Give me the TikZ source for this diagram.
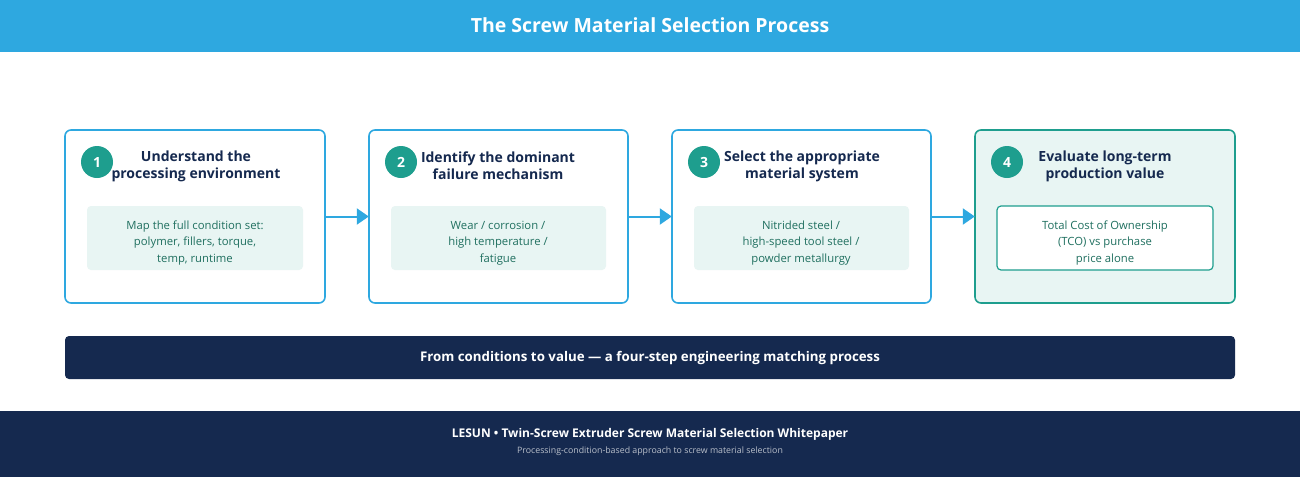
\documentclass[tikz,border=0pt]{standalone}
\usepackage{fontspec}
\setmainfont{Open Sans}
\usetikzlibrary{arrows.meta}
\definecolor{hdr}{HTML}{2EA8E0}
\definecolor{navy}{HTML}{15294F}
\definecolor{teal}{HTML}{1E9E8E}
\definecolor{pale}{HTML}{E8F5F3}
\definecolor{tealtxt}{HTML}{1F6F5F}
\begin{document}
\begin{tikzpicture}[x=1pt,y=-1pt,
  card/.style={draw=hdr,line width=1.6pt,rounded corners=6pt,fill=white},
  inner/.style={fill=pale,rounded corners=4pt},
  num/.style={circle,fill=teal,minimum size=32pt,inner sep=0pt,text=white,font=\bfseries\fontsize{14}{16}\selectfont},
  ttl/.style={text=navy,font=\bfseries\fontsize{14}{17}\selectfont,align=center},
  body/.style={text=tealtxt,font=\fontsize{11.3}{16.5}\selectfont,align=center},
  arr/.style={draw=hdr,line width=2pt,-{Triangle[length=12pt,width=16pt]}}]
\useasboundingbox (0,0) rectangle (1300,477);
\fill[hdr] (0,0) rectangle (1300,52);
\node[text=white,font=\bfseries\fontsize{19.5}{22}\selectfont] (title) at (650,25) {The Screw Material Selection Process};
% cards
\draw[card] (65,130) rectangle (325,303);
\node (c1) at (195,216.5) [minimum width=260pt,minimum height=173pt] {};
\draw[card] (369,130) rectangle (628,303);
\node (c2) at (498.5,216.5) [minimum width=259pt,minimum height=173pt] {};
\draw[card] (672,130) rectangle (931,303);
\node (c3) at (801.5,216.5) [minimum width=259pt,minimum height=173pt] {};
\draw[card,draw=teal,fill=pale] (975,130) rectangle (1235,303);
\node (c4) at (1105,216.5) [minimum width=260pt,minimum height=173pt] {};
% inner boxes
\fill[inner] (87,206) rectangle (303,270);
\fill[inner] (391,206) rectangle (606,270);
\fill[inner] (694,206) rectangle (909,270);
\draw[inner,fill=white,draw=teal,line width=1.2pt] (997,206) rectangle (1213,270);
% numbers
\node[num] (n1) at (97,162) {1};
\node[num] (n2) at (401,162) {2};
\node[num] (n3) at (704,162) {3};
\node[num] (n4) at (1007,162) {4};
% titles
\node[ttl] (t1) at (196,166) {Understand the\\processing environment};
\node[ttl] (t2) at (498,166) {Identify the dominant\\failure mechanism};
\node[ttl] (t3) at (802,166) {Select the appropriate\\material system};
\node[ttl] (t4) at (1105,166) {Evaluate long-term\\production value};
% bodies
\node[body] (b1) at (195,243) {Map the full condition set:\\polymer, fillers, torque,\\temp, runtime};
\node[body] (b2) at (498,243) {Wear / corrosion /\\high temperature /\\fatigue};
\node[body] (b3) at (801,243) {Nitrided steel /\\high-speed tool steel /\\powder metallurgy};
\node[body] (b4) at (1105,243) {Total Cost of Ownership\\(TCO) vs purchase\\price alone};
% arrows
\draw[arr] (c1.east) -- (c2.west);
\draw[arr] (c2.east) -- (c3.west);
\draw[arr] (c3.east) -- (c4.west);
% bar
\fill[navy,rounded corners=4pt] (65,336) rectangle (1235,379);
\node[text=white,font=\bfseries\fontsize{13.3}{16}\selectfont] (bar) at (650,358) {From conditions to value — a four-step engineering matching process};
% footer
\fill[navy] (0,411) rectangle (1300,477);
\node[text=white,font=\bfseries\fontsize{12}{14}\selectfont] (f1) at (650,434) {LESUN • Twin-Screw Extruder Screw Material Selection Whitepaper};
\node[text=white!70!navy,font=\fontsize{8.8}{10}\selectfont] (f2) at (650,451) {Processing-condition-based approach to screw material selection};
\end{tikzpicture}
\end{document}
